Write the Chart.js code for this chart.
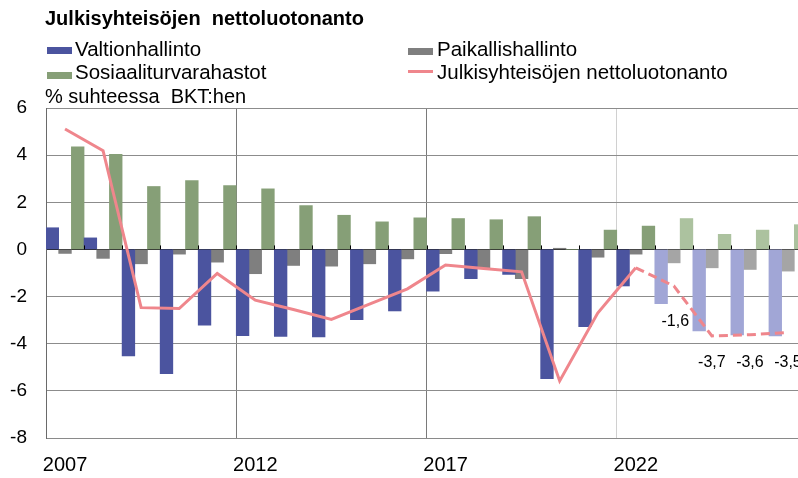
<!DOCTYPE html>
<html><head><meta charset="utf-8">
<script src="https://cdn.jsdelivr.net/npm/chart.js@4/dist/chart.umd.min.js"></script>
<style>
html,body{margin:0;padding:0;background:#fff;overflow:hidden;width:798px;height:478px;}
#wrap{position:relative;width:812px;height:478px;}
canvas{position:absolute;left:0;top:0;}
.t{position:absolute;font-family:"Liberation Sans",Arial,sans-serif;color:#000;white-space:pre;line-height:1;}
.sw{position:absolute;}
</style></head>
<body>
<div id="wrap">
<canvas id="c" width="812" height="478"></canvas>
<div class="t" style="left:45px;top:8px;font-size:20px;font-weight:bold;">Julkisyhteisöjen  nettoluotonanto</div>
<div class="sw" style="left:47px;top:47px;width:25px;height:7px;background:#4b549f;"></div>
<div class="t" style="left:75px;top:39px;font-size:20.5px;">Valtionhallinto</div>
<div class="sw" style="left:47px;top:72px;width:25px;height:7px;background:#869f77;"></div>
<div class="t" style="left:75px;top:62px;font-size:20.5px;">Sosiaaliturvarahastot</div>
<div class="sw" style="left:408px;top:48px;width:25px;height:7px;background:#7f7f7f;"></div>
<div class="t" style="left:437px;top:39px;font-size:20.5px;">Paikallishallinto</div>
<div class="sw" style="left:408px;top:70px;width:25px;height:3px;background:#ef868c;"></div>
<div class="t" style="left:437px;top:62px;font-size:20.5px;">Julkisyhteisöjen nettoluotonanto</div>
<div class="t" style="left:45px;top:86px;font-size:20px;">% suhteessa  BKT:hen</div>
</div>
<script>
const years = ['2007','2008','2009','2010','2011','2012','2013','2014','2015','2016','2017','2018','2019','2020','2021','2022','2023','2024','2025','2026'];
const tickYears = ['2007','2012','2017','2022'];
const valtionhallinto = [0.92,0.49,-4.52,-5.27,-3.21,-3.66,-3.69,-3.71,-2.98,-2.61,-1.77,-1.24,-1.06,-5.48,-3.28,-1.55,-2.30,-3.46,-3.63,-3.67];
const paikallishallinto = [-0.17,-0.38,-0.61,-0.20,-0.54,-1.03,-0.68,-0.71,-0.61,-0.40,-0.18,-0.78,-1.24,0.05,-0.33,-0.20,-0.57,-0.78,-0.85,-0.92];
const sosiaaliturva = [4.35,4.03,2.67,2.92,2.71,2.57,1.86,1.45,1.17,1.34,1.31,1.26,1.39,0.0,0.82,0.99,1.31,0.64,0.82,1.05];
const nettoluotonanto = [5.11,4.19,-2.47,-2.51,-1.02,-2.15,-2.55,-2.97,-2.32,-1.67,-0.66,-0.81,-0.95,-5.58,-2.70,-0.78,-1.55,-3.67,-3.62,-3.52];
const forecastFrom = '2023';
const dashFrom = '2022';
const valueLabels = [['2023','-1,6'],['2024','-3,7'],['2025','-3,6'],['2026','-3,5']];

const fIdx = years.indexOf(forecastFrom);
const dIdx = years.indexOf(dashFrom);
const col = (dark, light) => years.map((y,i) => i >= fIdx ? light : dark);

const extras = {
  id:'extras',
  afterDatasetsDraw(chart){
    const ctx = chart.ctx, xs = chart.scales.x, ys = chart.scales.y;
    const y0 = ys.getPixelForValue(0);
    ctx.save();
    ctx.strokeStyle = '#000'; ctx.lineWidth = 1;
    const w = (xs.right - xs.left) / years.length;
    for (let i = 1; i <= years.length; i++) {
      const x = Math.round(xs.left + i*w) + 0.5;
      ctx.beginPath(); ctx.moveTo(x, y0 - 4); ctx.lineTo(x, y0); ctx.stroke();
    }
    ctx.fillStyle = '#000';
    ctx.font = '16px "Liberation Sans", Arial, sans-serif';
    ctx.textAlign = 'center'; ctx.textBaseline = 'alphabetic';
    const lineMeta = chart.getDatasetMeta(3);
    valueLabels.forEach(([yr, txt]) => {
      const i = years.indexOf(yr);
      const p = lineMeta.data[i];
      const y = (i === fIdx) ? p.y + 40 : ys.getPixelForValue(-5);
      ctx.fillText(txt, p.x + (i === fIdx ? 1.5 : 0), y);
    });
    ctx.restore();
  }
};

new Chart(document.getElementById('c'), {
  data: {
    labels: years,
    datasets: [
      {type:'bar', label:'Valtionhallinto', data: valtionhallinto, backgroundColor: col('#4b549f','#a1a6d6'), order:1, categoryPercentage:1, barPercentage:1},
      {type:'bar', label:'Paikallishallinto', data: paikallishallinto, backgroundColor: col('#7f7f7f','#a5a5a5'), order:1, categoryPercentage:1, barPercentage:1},
      {type:'bar', label:'Sosiaaliturvarahastot', data: sosiaaliturva, backgroundColor: col('#869f77','#acc29f'), order:1, categoryPercentage:1, barPercentage:1},
      {type:'line', label:'Julkisyhteisöjen nettoluotonanto', data: nettoluotonanto, borderColor:'#ef868c', borderWidth:3, pointRadius:0, tension:0, order:0,
        segment:{ borderDash: c => c.p0DataIndex >= dIdx ? [9,5] : undefined }}
    ]
  },
  options: {
    responsive:false, animation:false, devicePixelRatio:1,
    layout:{padding:{top:108,left:0,right:5,bottom:0}},
    plugins:{legend:{display:false}, title:{display:false}, tooltip:{enabled:false}},
    scales:{
      x:{
        offset:true,
        grid:{offset:true, drawTicks:false, lineWidth:1,
          color: c => (c.index % 5 === 0 && c.index > 0) ? (years[c.index] >= '2022' ? '#d0d0d0' : '#7a7a7a') : 'rgba(0,0,0,0)'},
        border:{color:'#8a8a8a'},
        ticks:{autoSkip:false, maxRotation:0, padding:15, color:'#000',
          font:{family:'"Liberation Sans", Arial', size:20},
          callback:function(v,i){ const l = this.getLabelForValue(v); return tickYears.includes(l) ? l : ''; }},
        afterFit: s => { s.height = 40; }
      },
      y:{
        min:-8, max:6,
        ticks:{stepSize:2, padding:19, color:'#000', font:{family:'"Liberation Sans", Arial', size:19}},
        grid:{drawTicks:false, color: c => c.tick.value === 0 ? '#222' : '#8c8c8c'},
        border:{color:'#6a6a6a'},
        afterFit: s => { s.width = 46; }
      }
    }
  },
  plugins:[extras]
});
</script>
</body></html>
